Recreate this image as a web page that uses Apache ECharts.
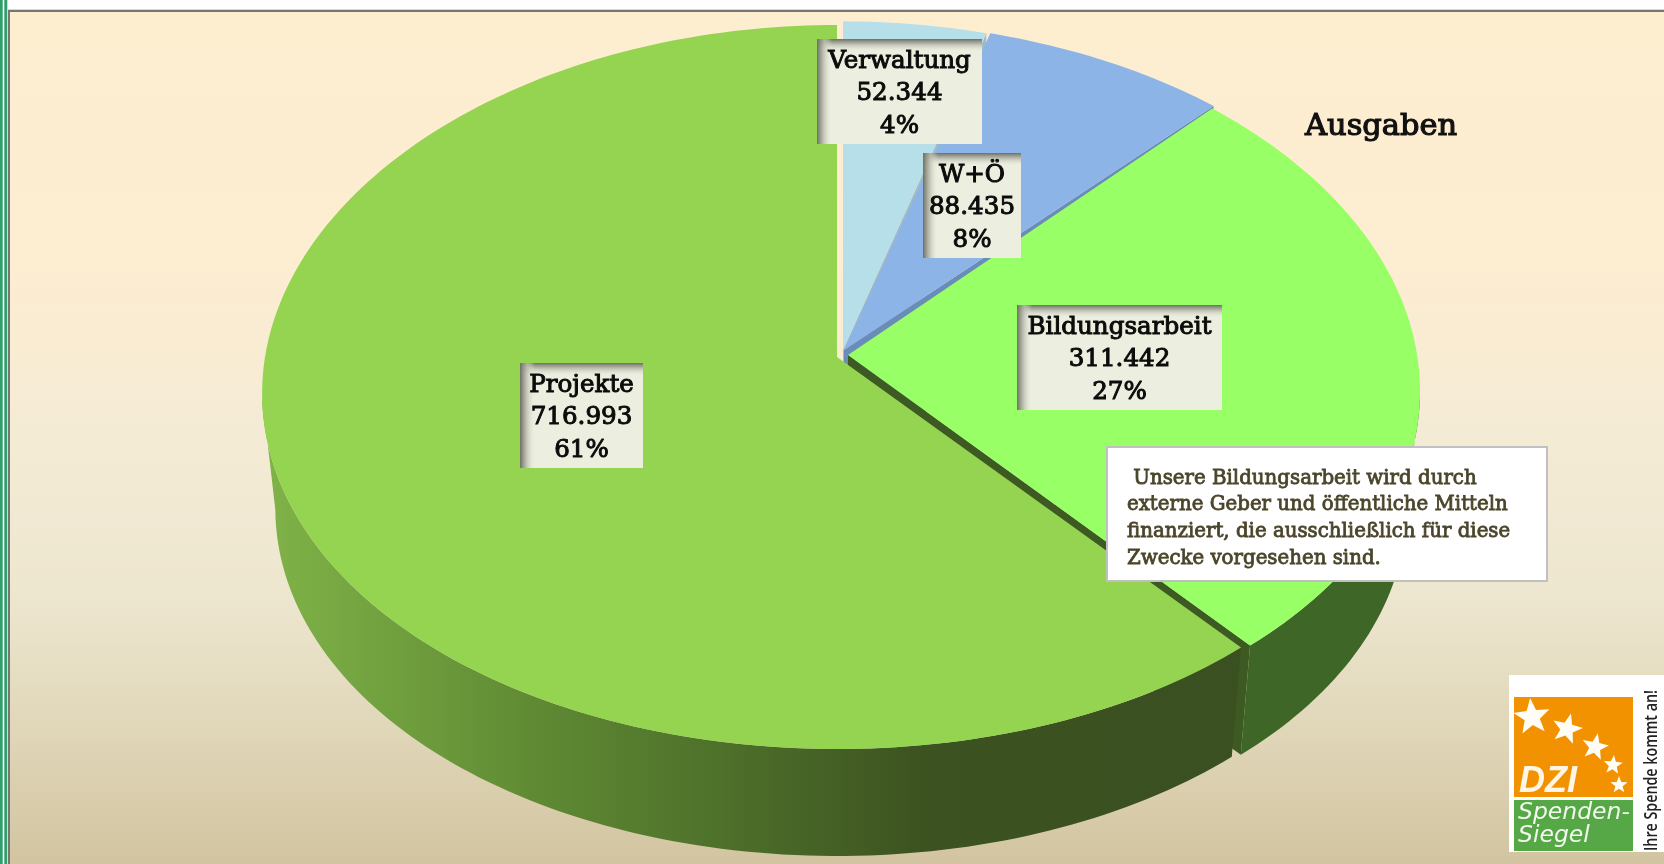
<!DOCTYPE html>
<html>
<head>
<meta charset="utf-8">
<style>html,body{margin:0;padding:0;background:#fff}#c{width:1664px;height:864px}</style>
<script src="https://cdn.jsdelivr.net/npm/echarts@6/dist/echarts.min.js"></script>
</head>
<body>
<div id="c"></div>
<script>
// ---- data (clockwise from 12 o'clock) ----
const categories = ['Verwaltung', 'W+Ö', 'Bildungsarbeit', 'Projekte'];
const amounts = [52344, 88435, 311442, 716993];
const chartTitle = 'Ausgaben';
const noteLines = [' Unsere Bildungsarbeit wird durch', 'externe Geber und öffentliche Mitteln', 'finanziert, die ausschließlich für diese', 'Zwecke vorgesehen sind.'];

// ---- styling ----
const topColors = ['#b7dfea', '#8cb4e7', '#99ff66', '#94d451'];
const wallColors = ['#9fbcc6', '#6a8cb8', '#3d6627', '#3b5120'];
const faceColors = ['#9fbcc6', '#6a8cb8', '#3c5a22', '#3b5120'];
const apexX = [843, 844, 848, 837];
const apexY = [350, 350, 355, 357];
const scaleX = [0.99, 1.01, 0.995, 1];
const scaleY = [0.99, 0.99, 1, 1];
const labelBoxes = [[817, 39, 165, 105], [923, 153, 98, 105], [1017, 305, 205, 105], [520, 363, 123, 105]];
const A = 572, B = 359.5, PX = 0.1, PY = 0.0829, DEPTH = 116, BOTTOM = 0.977;
const RIM_RIGHT = 96 * Math.PI / 180, RIM_LEFT = 264 * Math.PI / 180;
const FONT = '"DejaVu Serif"';

const total = amounts.reduce((a, b) => a + b, 0);
const fmt = v => String(v).replace(/\B(?=(\d{3})+$)/g, '.');

function proj(i, theta, level) {
  const k = level ? BOTTOM : 1;
  const u = Math.sin(theta), v = Math.cos(theta);
  return [
    apexX[i] + k * scaleX[i] * A * u / (1 + PX * v),
    apexY[i] + (level ? DEPTH : 0) - k * scaleY[i] * B * v / (1 + PY * v)
  ];
}
function arc(i, t0, t1, level) {
  const n = Math.max(2, Math.ceil((t1 - t0) / 0.02)), pts = [];
  for (let k = 0; k <= n; k++) pts.push(proj(i, t0 + (t1 - t0) * k / n, level));
  return pts;
}
function linear(x, y, x2, y2, stops, global) {
  return {type: 'linear', x, y, x2, y2, global: !!global, colorStops: stops.map(s => ({offset: s[0], color: s[1]}))};
}

function renderSlice(params, api) {
  const i = params.dataIndex;
  const before = amounts.slice(0, i).reduce((a, b) => a + b, 0);
  const value = api.value(0);
  const t0 = before / total * Math.PI * 2, t1 = (before + value) / total * Math.PI * 2;
  const children = [];
  const apexTop = [apexX[i], apexY[i]], apexBot = [apexX[i], apexY[i] + DEPTH];
  const wallFill = i === 3
    ? linear(263, 0, 1240, 0, [[0, '#80b348'], [0.28, '#5f8a33'], [0.48, '#4d6f2a'], [0.68, '#3c5220'], [1, '#3a5020']], true)
    : wallColors[i];
  // end radial face
  if (i < 3) {
    children.push({type: 'polygon', shape: {points: [apexTop, proj(i, t1, 0), proj(i, t1, 1), apexBot]}, style: {fill: faceColors[i]}});
  }
  // outer wall: only the part facing the viewer
  const lo = Math.max(t0, RIM_RIGHT), hi = Math.min(t1, RIM_LEFT);
  if (lo < hi) {
    const rimTop = arc(i, lo, hi, 0), rimBot = arc(i, lo, hi, 1);
    children.push({type: 'polygon', shape: {points: rimTop.concat(rimBot.reverse())}, style: {fill: wallFill}});
  }
  // top
  children.push({type: 'polygon', shape: {points: [apexTop].concat(arc(i, t0, t1, 0))}, style: {fill: topColors[i]}});
  return {type: 'group', children};
}

function renderLabel(params, api) {
  const i = params.dataIndex;
  const b = labelBoxes[i];
  const value = api.value(0);
  const pct = Math.round(value / total * 100);
  const lines = [categories[i], fmt(value), pct + '%'];
  const [x, y, w, h] = b;
  const shade = [[0, 'rgba(110,110,100,1)'], [0.5, 'rgba(190,192,178,0.75)'], [1, 'rgba(236,239,223,0)']];
  const children = [
    {type: 'rect', shape: {x, y, width: w, height: h}, style: {fill: '#ecefdf'}},
    {type: 'rect', shape: {x, y, width: w, height: 13}, style: {fill: linear(0, 0, 0, 1, shade)}},
    {type: 'rect', shape: {x, y, width: 15, height: h}, style: {fill: linear(0, 0, 1, 0, shade)}}
  ];
  lines.forEach((t, k) => children.push({
    type: 'text',
    style: {x: x + w / 2, y: y + 22.5 + k * 32.5, text: t, fill: '#0b0b0b', stroke: '#0b0b0b', lineWidth: 1,
      font: '24.6px ' + FONT, textAlign: 'center', textVerticalAlign: 'middle'}
  }));
  return {type: 'group', children};
}

function star(cx, cy, r, rot) {
  const pts = [];
  for (let k = 0; k < 10; k++) {
    const a = rot + k * Math.PI / 5, q = k % 2 ? r * 0.42 : r;
    pts.push([cx + q * Math.sin(a), cy - q * Math.cos(a)]);
  }
  return {type: 'polygon', z: 21, shape: {points: pts}, style: {fill: '#fffdf5'}};
}

const background = [
  {type: 'rect', z: 0, shape: {x: 0, y: 0, width: 2.7, height: 864}, style: {fill: '#2e9e6a'}},
  {type: 'rect', z: 0, shape: {x: 4.3, y: 0, width: 3, height: 864}, style: {fill: '#2e9e6a'}},
  {type: 'rect', z: 0, shape: {x: 7.5, y: 9, width: 1657, height: 855}, style: {fill: '#d9d9d9'}},
  {type: 'rect', z: 0, shape: {x: 8, y: 10, width: 1656, height: 854}, style: {fill: '#767676'}},
  {type: 'rect', z: 1, shape: {x: 10, y: 12, width: 1654, height: 852}, style: {
    fill: linear(0, 0, 0, 1, [[0, '#feeed0'], [0.3, '#fdedd1'], [0.5, '#f4ebd5'], [0.68, '#eee7d0'], [0.82, '#e2d9bc'], [1, '#d2c4a0']])
  }}
];

const note = [
  {type: 'rect', z: 20, shape: {x: 1107, y: 447, width: 440, height: 134}, style: {fill: '#ffffff', stroke: '#c0c0c0', lineWidth: 2}}
].concat(noteLines.map((t, k) => ({
  type: 'text', z: 21,
  style: {x: 1127, y: 478.5 + k * 26.8, text: t, fill: '#4a452a', stroke: '#4a452a', lineWidth: 0.8, font: '19.8px ' + FONT, textVerticalAlign: 'middle'}
})));

const logo = [
  {type: 'rect', z: 20, shape: {x: 1509, y: 675, width: 155, height: 177}, style: {fill: '#ffffff'}},
  {type: 'rect', z: 20, shape: {x: 1514, y: 697, width: 119, height: 100}, style: {fill: '#f39200'}},
  {type: 'rect', z: 20, shape: {x: 1514, y: 800, width: 119, height: 51}, style: {fill: '#55a845'}},
  star(1532, 717, 19, -0.1), star(1567, 729, 16, 0.25), star(1595, 747, 14, 0.2), star(1613, 765, 10, 0.1), star(1619, 785, 9, 0),
  {type: 'text', z: 21, style: {x: 1519, y: 782, text: 'DZI', fill: '#fff6e6', font: 'italic bold 36px "Liberation Sans"', textVerticalAlign: 'middle'}},
  {type: 'text', z: 21, style: {x: 1518, y: 813, text: 'Spenden-', fill: '#f2f8ee', font: 'italic 23.5px "DejaVu Sans"', textVerticalAlign: 'middle'}},
  {type: 'text', z: 21, style: {x: 1518, y: 836, text: 'Siegel', fill: '#f2f8ee', font: 'italic 23.5px "DejaVu Sans"', textVerticalAlign: 'middle'}},
  {type: 'text', z: 21, x: 1652, y: 851, rotation: Math.PI / 2, scaleX: 0.92, scaleY: 1.2,
    style: {x: 0, y: 0, text: 'Ihre Spende kommt an!', fill: '#222', font: '600 15.5px "Open Sans"', textAlign: 'left', textVerticalAlign: 'middle'}}
];

const chart = echarts.init(document.getElementById('c'), null, {renderer: 'canvas'});
chart.setOption({
  animation: false,
  backgroundColor: '#ffffff',
  title: {
    text: chartTitle, left: 1305, top: 112, padding: 0,
    textStyle: {fontFamily: 'DejaVu Serif', fontSize: 30.5, fontWeight: 'normal', color: '#111', textBorderColor: '#111', textBorderWidth: 1.2}, z: 25
  },
  graphic: {elements: background.concat(note, logo)},
  series: [
    {type: 'custom', coordinateSystem: 'none', z: 5, silent: true, data: amounts.map(v => [v]), renderItem: renderSlice},
    {type: 'custom', coordinateSystem: 'none', z: 6, silent: true, data: amounts.map(v => [v]), renderItem: renderLabel}
  ]
});
</script>
</body>
</html>
